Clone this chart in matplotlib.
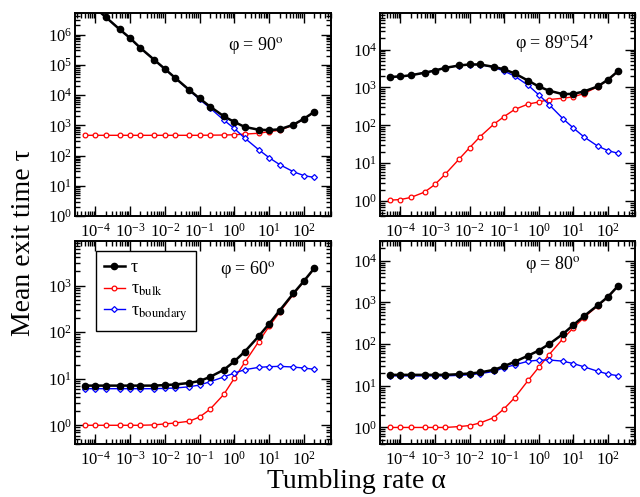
import matplotlib
matplotlib.use('Agg')
import matplotlib.pyplot as plt
from matplotlib.ticker import LogLocator, NullFormatter

plt.rcParams['font.family'] = 'serif'
plt.rcParams['font.serif'] = ['Liberation Serif', 'DejaVu Serif']
plt.rcParams['mathtext.fontset'] = 'stix'

# tumbling rates used in all four panels
alpha = [5e-5, 1e-4, 2e-4, 5e-4, 1e-3, 2e-3, 5e-3, 1e-2, 2e-2, 5e-2,
         0.1, 0.2, 0.5, 1, 2, 5, 10, 20, 50, 100, 200]

# phi = 90 deg
tau_90 = [1.5e7, 7.6e6, 3.8e6, 1.5e6, 7.7e5, 3.6e5, 1.46e5, 7.4e4, 3.7e4, 1.5e4,
          7.8e3, 4.2e3, 2.0e3, 1.3e3, 890, 720, 700, 740, 1050, 1650, 2800]
bulk_90 = [470, 470, 470, 470, 470, 470, 470, 470, 470, 470,
           470, 475, 480, 490, 515, 550, 620, 690, 1020, 1630, 2780]
bnd_90 = [1.5e7, 7.6e6, 3.8e6, 1.5e6, 7.7e5, 3.6e5, 1.455e5, 7.35e4, 3.65e4, 1.45e4,
          7.3e3, 3.75e3, 1.5e3, 790, 380, 158, 86, 51, 29.5, 22, 19]

# phi = 89 deg 54'
tau_8954 = [1.9e3, 1.95e3, 2.1e3, 2.45e3, 2.8e3, 3.3e3, 3.8e3, 4.05e3, 4.05e3, 3.5e3,
            3.0e3, 2.35e3, 1.5e3, 1.06e3, 820, 665, 680, 780, 1060, 1600, 2750]
bulk_8954 = [1.06, 1.1, 1.25, 1.73, 2.76, 5.2, 12.9, 25.7, 50, 107,
             171, 262, 366, 413, 480, 520, 565, 690, 1040, 1580, 2730]
bnd_8954 = [1.9e3, 1.95e3, 2.1e3, 2.45e3, 2.8e3, 3.3e3, 3.79e3, 4.02e3, 4.0e3, 3.4e3,
            2.7e3, 2.0e3, 1.13e3, 640, 350, 150, 85, 50, 28.5, 21.5, 18.2]

# phi = 60 deg
tau_60 = [7.1, 7.1, 7.1, 7.1, 7.1, 7.1, 7.1, 7.3, 7.5, 8.1,
          8.9, 10.9, 15.5, 23.5, 38, 81, 150, 288, 675, 1240, 2350]
bulk_60 = [1.0, 1.0, 1.0, 1.0, 1.0, 1.0, 1.02, 1.07, 1.12, 1.22,
           1.5, 2.2, 4.6, 10.2, 22.4, 62, 132, 264, 650, 1220, 2330]
bnd_60 = [6.1, 6.1, 6.1, 6.1, 6.1, 6.1, 6.1, 6.2, 6.3, 6.7,
          7.3, 8.6, 10.9, 13.2, 15.6, 17.5, 18.1, 18.4, 17.8, 16.9, 15.9]

# phi = 80 deg
tau_80 = [18.2, 18.2, 18.2, 18.2, 18.2, 18.2, 18.9, 19.6, 20.8, 24,
          29.5, 37.5, 53, 70, 100, 175, 288, 465, 850, 1370, 2550]
bulk_80 = [0.99, 0.99, 0.99, 0.99, 0.99, 0.99, 1.04, 1.1, 1.27, 1.7,
           2.8, 5.1, 13.6, 27.7, 56, 135, 245, 430, 825, 1350, 2530]
bnd_80 = [17.2, 17.2, 17.2, 17.2, 17.2, 17.2, 17.7, 18.3, 19.5, 22,
          27, 31.6, 38.8, 41, 41.5, 38.8, 34, 28.5, 22.3, 19, 17.3]


def Panel(ax, tau, bulk, bnd, label, ylim, label_pos):
    '''Draw one panel: total, bulk and boundary exit times on log-log axes.'''
    ax.plot(alpha, bulk, color='red', lw=1, marker='o', ms=3.4,
            mfc='white', mec='red', mew=0.9, label='τ$_{\\rm bulk}$')
    ax.plot(alpha, bnd, color='blue', lw=1, marker='D', ms=3.0,
            mfc='white', mec='blue', mew=0.9, label='τ$_{\\rm boundary}$')
    ax.plot(alpha, tau, color='black', lw=1.8, marker='o', ms=4.5,
            mfc='black', mec='black', label='τ')
    ax.set_xscale('log')
    ax.set_yscale('log')
    ax.set_xlim(2.6e-5, 600)
    ax.set_ylim(*ylim)
    #every decade labelled, 2..9 as minor ticks
    for axis in [ax.xaxis, ax.yaxis]:
        axis.set_major_locator(LogLocator(base=10, numticks=30))
        axis.set_minor_locator(LogLocator(base=10, subs=range(2, 10), numticks=300))
        axis.set_minor_formatter(NullFormatter())
    ax.tick_params(which='both', direction='in', top=True, right=True,
                   labelsize=12, width=1, color='black')
    ax.tick_params(which='major', length=7, pad=5)
    ax.tick_params(which='minor', length=3.5)
    ax.tick_params(axis='y', pad=2)
    for s in ax.spines.values():
        s.set_linewidth(1.4)
    ax.text(label_pos[0], label_pos[1], label, transform=ax.transAxes,
            fontsize=13, ha='left', va='center')


fig = plt.figure(figsize=(6.4, 4.97), dpi=100)
ax1 = fig.add_axes([0.117, 0.565, 0.400, 0.408])
ax2 = fig.add_axes([0.594, 0.565, 0.398, 0.408])
ax3 = fig.add_axes([0.117, 0.107, 0.400, 0.408])
ax4 = fig.add_axes([0.594, 0.107, 0.398, 0.408])

Panel(ax1, tau_90, bulk_90, bnd_90, 'φ = 90$^{\\rm o}$', (1, 5e6), (0.60, 0.84))
Panel(ax2, tau_8954, bulk_8954, bnd_8954, 'φ = 89$^{\\rm o}$54’', (0.4, 9e4), (0.53, 0.85))
Panel(ax3, tau_60, bulk_60, bnd_60, 'φ = 60$^{\\rm o}$', (0.4, 9e3), (0.566, 0.862))
Panel(ax4, tau_80, bulk_80, bnd_80, 'φ = 80$^{\\rm o}$', (0.4, 3e4), (0.569, 0.882))

# legend in the lower left panel, black first
h, l = ax3.get_legend_handles_labels()
leg = ax3.legend([h[2], h[0], h[1]], [l[2], l[0], l[1]], loc='upper left',
                 bbox_to_anchor=(0.082, 0.95), borderaxespad=0, fontsize=13,
                 handlelength=1.15, handletextpad=0.35, labelspacing=0.25,
                 borderpad=0.45, fancybox=False, edgecolor='black', framealpha=1)
leg.get_frame().set_linewidth(1.0)

fig.text(0.036, 0.511, 'Mean exit time τ', rotation=90, fontsize=20,
         ha='center', va='center')
fig.text(0.557, 0.032, 'Tumbling rate α', fontsize=20, ha='center', va='center')

plt.savefig('out.png', dpi=100)
